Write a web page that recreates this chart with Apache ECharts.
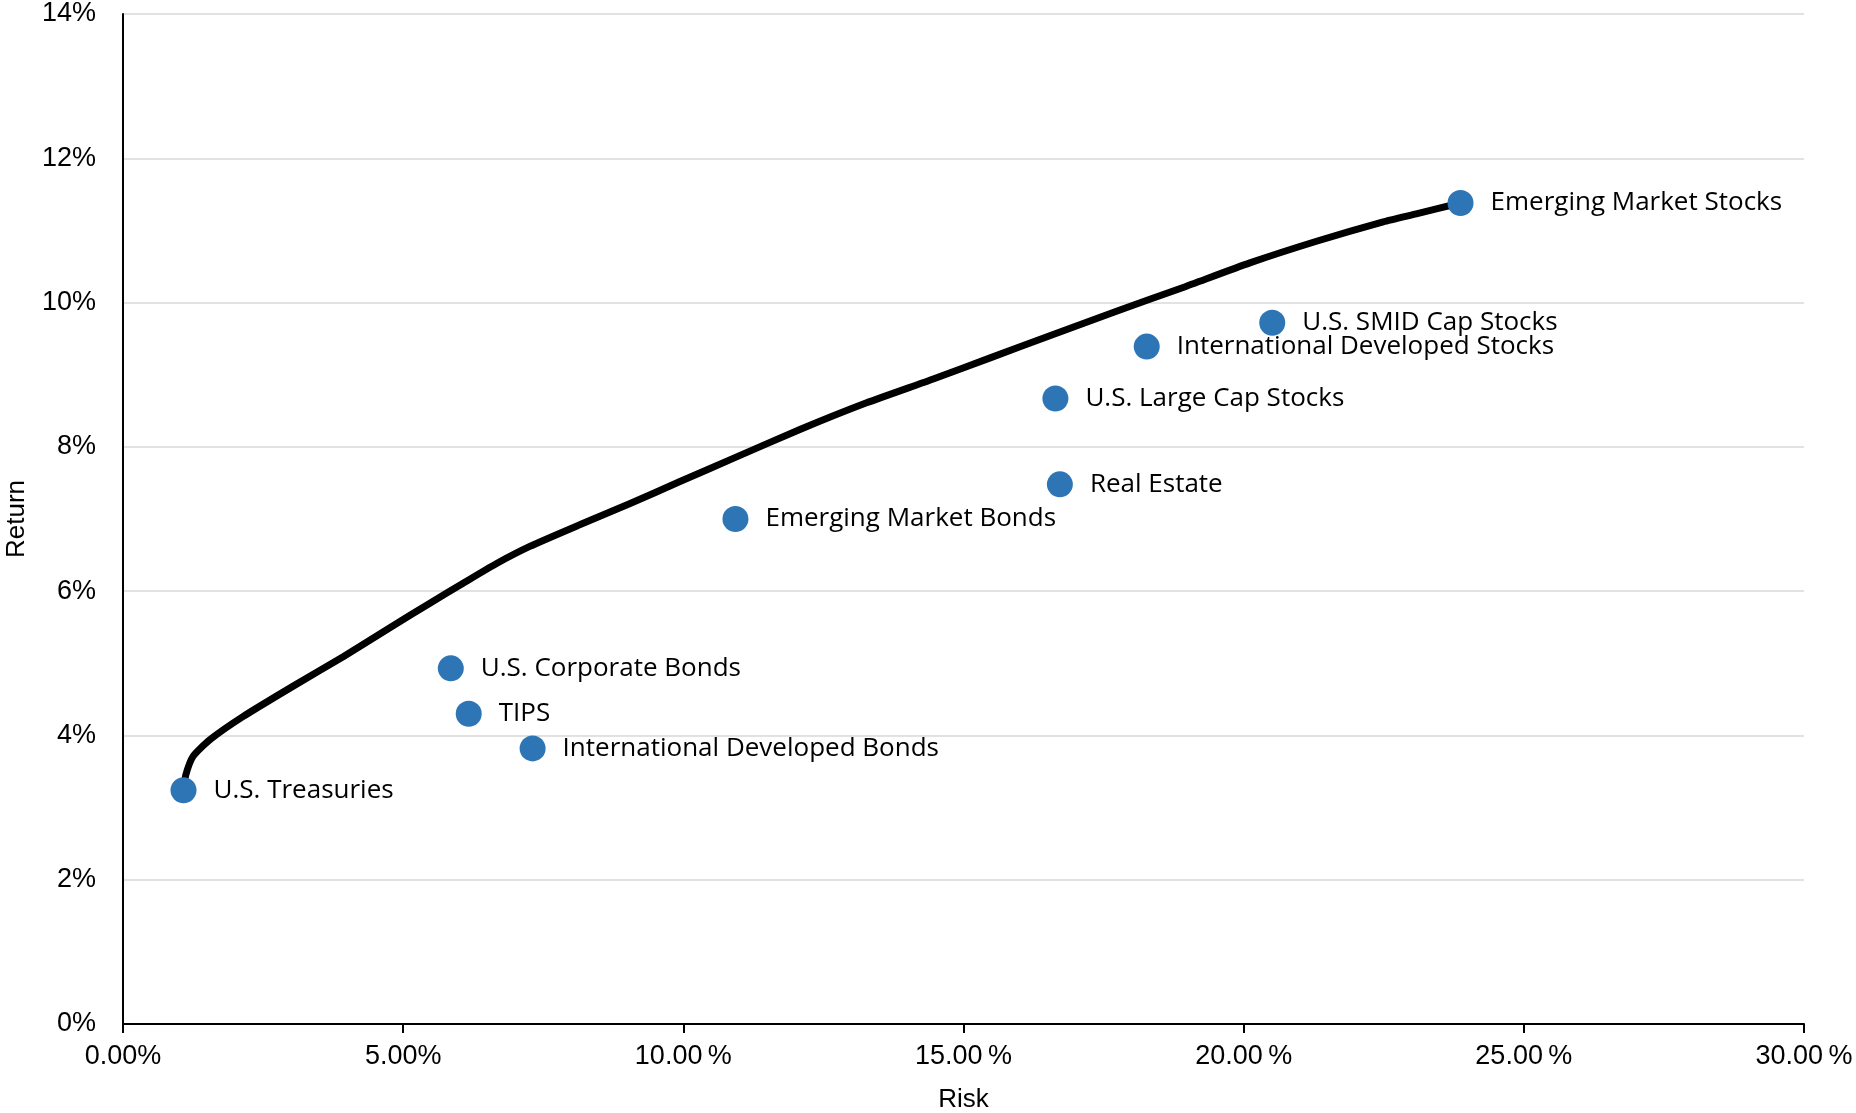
<!DOCTYPE html>
<html>
<head>
<meta charset="utf-8">
<script src="https://cdn.jsdelivr.net/npm/echarts@6/dist/echarts.min.js"></script>
<style>
html,body{margin:0;padding:0;background:#fff;}
#chart{width:1856px;height:1113px;}
</style>
</head>
<body>
<div id="chart"></div>
<script>
// Asset classes (risk %, return %)
const assetNames = ['U.S. Treasuries','U.S. Corporate Bonds','TIPS','International Developed Bonds','Emerging Market Bonds','Real Estate','U.S. Large Cap Stocks','International Developed Stocks','U.S. SMID Cap Stocks','Emerging Market Stocks'];
const assetRisk = [1.08, 5.85, 6.17, 7.31, 10.93, 16.72, 16.64, 18.27, 20.51, 23.87];
const assetReturn = [3.24, 4.93, 4.30, 3.82, 7.00, 7.48, 8.67, 9.39, 9.72, 11.38];

// Efficient frontier curve (risk %, return %)
const frontierRisk = [1.08, 1.12, 1.25, 1.55, 2.14, 3.03, 3.93, 4.82, 5.47, 6.07, 6.66, 7.26, 8.15, 9.04, 9.94, 10.89, 12.08, 13.27, 14.46, 15.50, 16.54, 17.73, 18.92, 20.11, 21.30, 22.49, 23.08, 23.87];
const frontierReturn = [3.24, 3.45, 3.71, 3.94, 4.26, 4.68, 5.09, 5.52, 5.83, 6.11, 6.38, 6.62, 6.92, 7.21, 7.52, 7.84, 8.24, 8.61, 8.94, 9.24, 9.54, 9.88, 10.21, 10.55, 10.85, 11.12, 11.23, 11.38];

// Tick labels
const xTickLabels = {0:'0.00%',5:'5.00%',10:'10.00\u2009%',15:'15.00\u2009%',20:'20.00\u2009%',25:'25.00\u2009%',30:'30.00\u2009%'};
const yTickLabels = {0:'0%',2:'2%',4:'4%',6:'6%',8:'8%',10:'10%',12:'12%',14:'14%'};

const chart = echarts.init(document.getElementById('chart'), null, {renderer:'canvas'});
const axisFont = 'Liberation Sans, Arial, sans-serif';
const labelFont = 'Open Sans, sans-serif';

chart.setOption({
  animation:false,
  backgroundColor:'#ffffff',
  grid:{left:123, right:52, top:14, bottom:89, containLabel:false, outerBoundsMode:'none'},
  xAxis:{
    type:'value', min:0, max:30, interval:5,
    name:'Risk', nameLocation:'middle', nameGap:63,
    nameTextStyle:{fontFamily:axisFont, fontSize:26, color:'#000'},
    axisLine:{show:true, onZero:false, lineStyle:{color:'#000', width:2}},
    axisTick:{show:true, length:9, lineStyle:{color:'#000', width:2}},
    splitLine:{show:false},
    axisLabel:{fontFamily:axisFont, fontSize:27, color:'#000', margin:19,
      formatter:v=>xTickLabels[v] !== undefined ? xTickLabels[v] : ''}
  },
  yAxis:{
    type:'value', min:0, max:14, interval:2,
    name:'Return', nameLocation:'middle', nameGap:93, nameRotate:90,
    nameTextStyle:{fontFamily:axisFont, fontSize:26, color:'#000'},
    axisLine:{show:true, onZero:false, lineStyle:{color:'#000', width:2}},
    axisTick:{show:false},
    splitLine:{show:true, lineStyle:{color:'#d9d9d9', width:1.5}},
    axisLabel:{fontFamily:axisFont, fontSize:27, color:'#000', margin:27,
      formatter:v=>yTickLabels[v] !== undefined ? yTickLabels[v] : ''}
  },
  series:[
    {
      type:'line',
      data:frontierRisk.map((x,i)=>[x, frontierReturn[i]]),
      showSymbol:false, symbol:'none',
      smooth:0.2,
      lineStyle:{color:'#000', width:7, cap:'round', join:'round'},
      z:2, silent:true
    },
    {
      type:'scatter',
      data:assetRisk.map((x,i)=>({name:assetNames[i], value:[x, assetReturn[i]]})),
      symbol:'circle', symbolSize:26,
      itemStyle:{color:'#2E75B6', opacity:1},
      label:{show:true, position:'right', distance:17, formatter:p=>p.name,
        fontFamily:labelFont, fontSize:26, color:'#000', opacity:1},
      z:3
    }
  ]
});
</script>
</body>
</html>
